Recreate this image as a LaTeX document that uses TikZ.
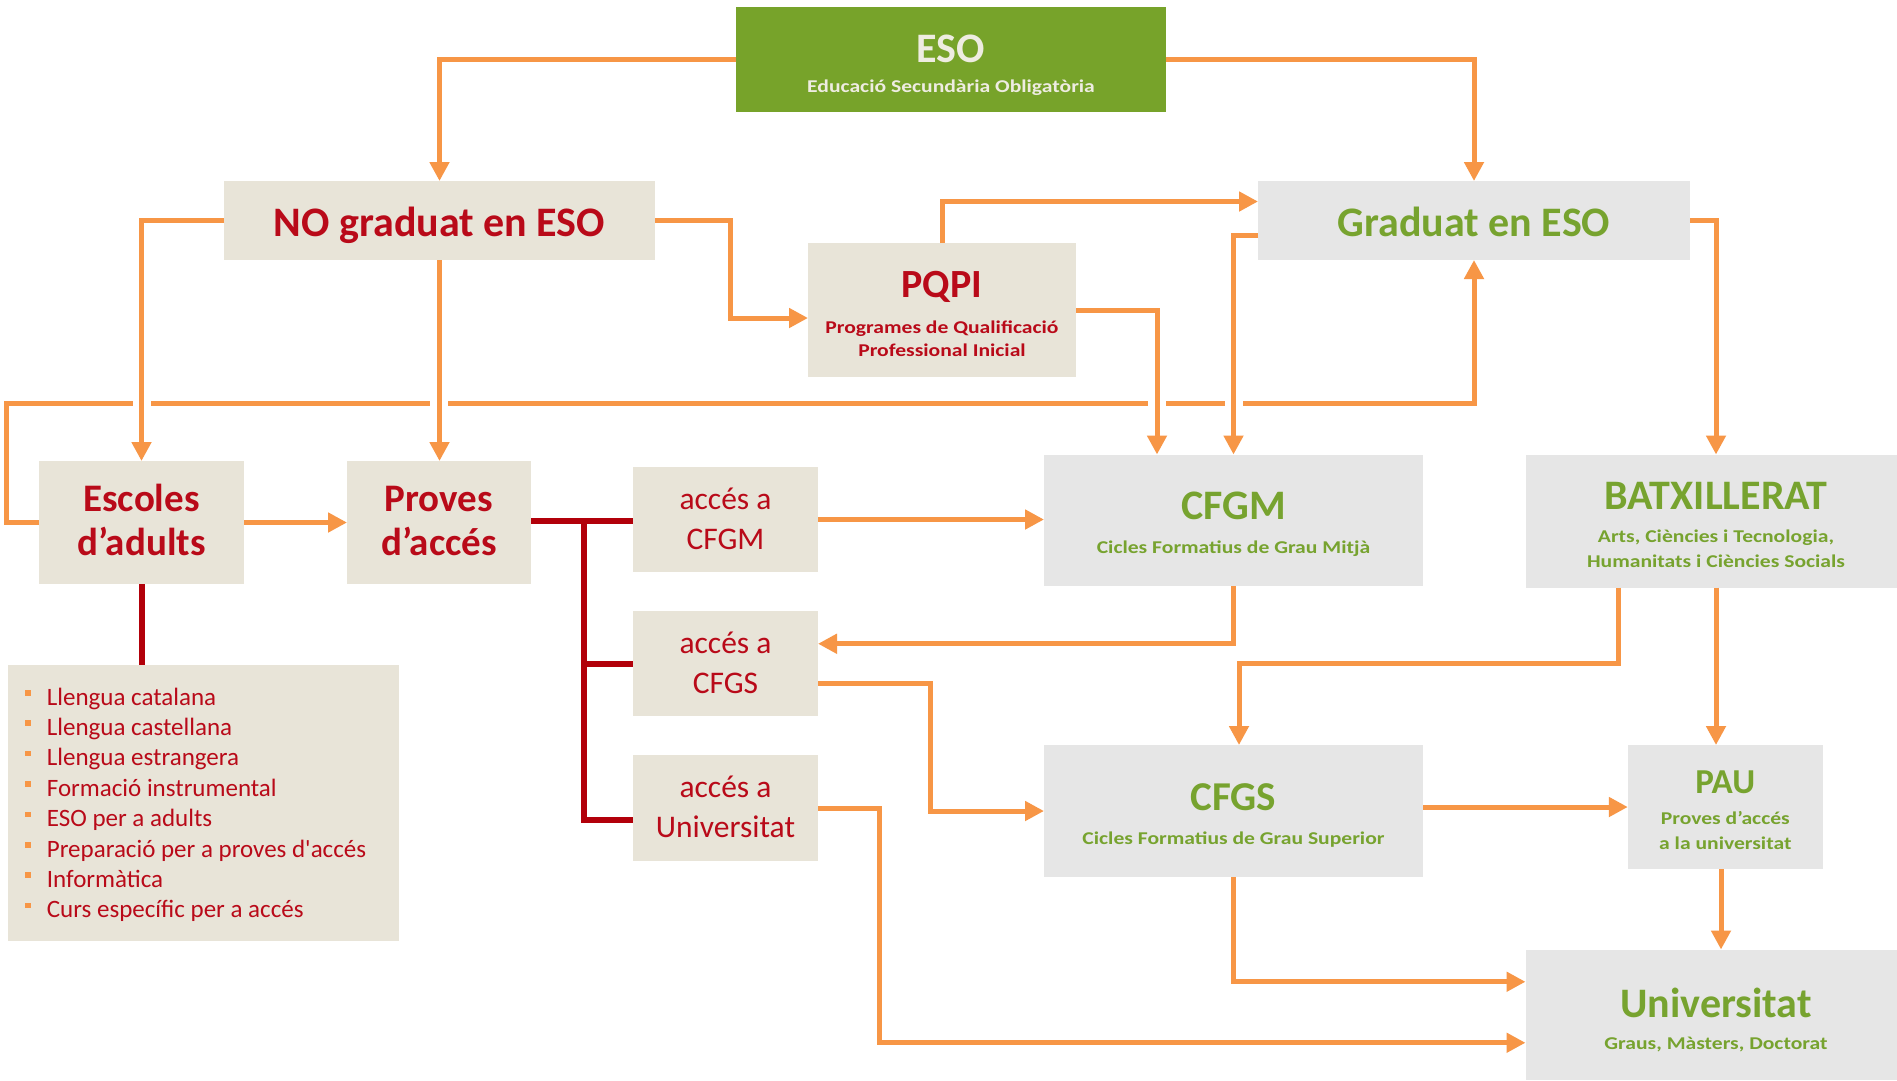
\documentclass[tikz,border=0pt]{standalone}
\usepackage{fontspec}
\setmainfont{Carlito}
\newfontfamily\subfont[FakeStretch=1.2]{Carlito}
\usetikzlibrary{arrows.meta,calc}
\definecolor{orangeL}{RGB}{247,150,70}
\definecolor{redT}{RGB}{185,10,25}
\definecolor{lineRed}{RGB}{178,0,10}
\definecolor{greenT}{RGB}{119,163,47}
\definecolor{esoG}{RGB}{119,163,42}
\definecolor{esoTc}{RGB}{238,236,225}
\definecolor{beige}{RGB}{232,228,216}
\definecolor{greyb}{RGB}{230,230,230}
\tikzset{
  bbox/.style={fill=beige, inner sep=0pt, outer sep=0pt},
  gbox/.style={fill=greyb, inner sep=0pt, outer sep=0pt},
  conn/.style={draw=orangeL, line width=5pt, -{Triangle[length=19pt,width=19pt]}},
  redl/.style={draw=lineRed, line width=6pt},
  tl/.style={anchor=base, inner sep=0pt},
  ttl/.style={tl, font=\bfseries\fontsize{42}{42}\selectfont},
  sub/.style={tl, font=\subfont\bfseries\fontsize{18}{18}\selectfont},
  acc/.style={tl, text=redT, font=\fontsize{31.5}{31.5}\selectfont},
  big/.style={tl, text=redT, font=\bfseries\fontsize{39}{39}\selectfont},
  litem/.style={anchor=base west, inner sep=0pt, text=redT, font=\fontsize{25}{25}\selectfont},
}
\begin{document}
\begin{tikzpicture}[x=1pt,y=-1pt]
\useasboundingbox[fill=white] (0,0) rectangle (1897,1080);
% boxes
\node[fill=esoG, inner sep=0pt, outer sep=0pt, minimum width=430pt, minimum height=105pt] (eso) at (951,59.5) {};
\node[bbox, minimum width=431pt, minimum height=79pt] (no) at (439.5,220.5) {};
\node[bbox, minimum width=268pt, minimum height=134pt] (pqpi) at (942,310) {};
\node[gbox, minimum width=432pt, minimum height=79pt] (grad) at (1474,220.5) {};
\node[bbox, minimum width=205pt, minimum height=123pt] (esc) at (141.5,522.5) {};
\node[bbox, minimum width=184pt, minimum height=123pt] (prov) at (439,522.5) {};
\node[bbox, minimum width=185pt, minimum height=105pt] (acm) at (725.5,519.5) {};
\node[bbox, minimum width=185pt, minimum height=105pt] (acs) at (725.5,663.75) {};
\node[bbox, minimum width=185pt, minimum height=106pt] (acu) at (725.5,808) {};
\node[gbox, minimum width=379pt, minimum height=131.5pt] (cfgm) at (1233.5,520.25) {};
\node[gbox, minimum width=371.5pt, minimum height=133pt] (batx) at (1711.25,521) {};
\node[gbox, minimum width=379pt, minimum height=132pt] (cfgs) at (1233.5,811) {};
\node[gbox, minimum width=195pt, minimum height=124pt] (pau) at (1725.3,807) {};
\node[gbox, minimum width=371.5pt, minimum height=130.5pt] (univ) at (1711.25,1014.75) {};
\node[bbox, minimum width=391pt, minimum height=276pt] (list) at (203.5,803) {};
% texts
\node[ttl, text=esoTc] (esoT) at (951,62) {ESO};
\node[sub, text=esoTc] (esoS) at (951,92) {Educació Secundària Obligatòria};
\node[ttl, text=redT] (noT) at (439.5,236) {NO graduat en ESO};
\node[ttl, text=redT, font=\bfseries\fontsize{40}{40}\selectfont] (pqT) at (942,297) {PQPI};
\node[sub, text=redT] (pqS1) at (942,333) {Programes de Qualificació};
\node[sub, text=redT] (pqS2) at (942,356) {Professional Inicial};
\node[ttl, text=greenT] (grT) at (1474,236) {Graduat en ESO};
\node[big] (escT1) at (141.5,511) {Escoles};
\node[big] (escT2) at (141.5,555) {d’adults};
\node[big] (provT1) at (439,511) {Proves};
\node[big] (provT2) at (439,555) {d’accés};
\node[acc] (acmT1) at (725.5,509) {accés a};
\node[acc] (acmT2) at (725.5,549) {CFGM};
\node[acc] (acsT1) at (725.5,653.5) {accés a};
\node[acc] (acsT2) at (725.5,693.5) {CFGS};
\node[acc] (acuT1) at (725.5,797) {accés a};
\node[acc] (acuT2) at (725.5,837) {Universitat};
\node[ttl, text=greenT] (cfgmT) at (1233.5,519.5) {CFGM};
\node[sub, text=greenT] (cfgmS) at (1233.5,553.5) {Cicles Formatius de Grau Mitjà};
\node[ttl, text=greenT] (batxT) at (1716,509) {BATXILLERAT};
\node[sub, text=greenT] (batxS1) at (1716,542) {Arts, Ciències i Tecnologia,};
\node[sub, text=greenT] (batxS2) at (1716,567) {Humanitats i Ciències Socials};
\node[ttl, text=greenT, font=\bfseries\fontsize{41}{41}\selectfont] (cfgsT) at (1233.5,810) {CFGS};
\node[sub, text=greenT] (cfgsS) at (1233.5,844) {Cicles Formatius de Grau Superior};
\node[ttl, text=greenT, font=\bfseries\fontsize{35}{35}\selectfont] (pauT) at (1725.3,793) {PAU};
\node[sub, text=greenT] (pauS1) at (1725.3,824) {Proves d’accés};
\node[sub, text=greenT] (pauS2) at (1725.3,849) {a la universitat};
\node[ttl, text=greenT] (univT) at (1716,1017.5) {Universitat};
\node[sub, text=greenT] (univS) at (1716,1049) {Graus, Màsters, Doctorat};
% list
\foreach \t [count=\i] in {Llengua catalana, Llengua castellana, Llengua estrangera, Formació instrumental, ESO per a adults, Preparació per a proves d\textquotesingle accés, Informàtica, Curs específic per a accés}{
  \pgfmathsetmacro{\yy}{705+(\i-1)*30.4}
  \fill[orangeL] (25,\yy-15) rectangle (30.5,\yy-9.5);
  \node[litem] (li\i) at (46.7,\yy) {\t};
}
% loop line Escoles -> Graduat
\draw[conn] (esc.west) -| (6,403) -| (grad.south);
\foreach \x in {141.5,439,1157,1233.5}{
  \fill[white] ({\x-9},399) rectangle ({\x+9},407.5);
}
% orange connectors
\draw[conn] (eso.west) -| (no.north);
\draw[conn] (eso.east) -| (grad.north);
\draw[conn] (no.west) -| (esc.north);
\draw[conn] (no.south) -- (no.south |- prov.north);
\draw[conn] (no.east) -| (730,318) -- ($(pqpi.west)+(0,8)$);
\draw[conn] (pqpi.north) |- ($(grad.west)+(0,-19)$);
\draw[conn] (pqpi.east) -| ($(cfgm.north)+(-76.5,0)$);
\draw[conn] ($(grad.west)+(0,14.5)$) -| (cfgm.north);
\draw[conn] (grad.east) -| ($(batx.north)+(4.75,0)$);
\draw[conn] (esc.east) -- (prov.west);
\draw[conn] (acm.east) -- (cfgm.west |- acm.east);
\draw[conn] (cfgm.south) |- ($(acs.east)+(0,-20)$);
\draw[conn] ($(acs.east)+(0,20)$) -- ++(112,0) |- (cfgs.west);
\draw[conn] (acu.east) -- ++(61,0) |- ($(univ.west)+(0,28)$);
\draw[conn] ($(batx.south)+(-92.75,0)$) -- ++(0,76) -| ($(cfgs.north)+(5.5,0)$);
\draw[conn] ($(batx.south)+(4.75,0)$) -- ($(pau.north)+(-9.3,0)$);
\draw[conn] (cfgs.east |- pau.west) -- (pau.west);
\coordinate (pauS) at ($(pau.south)+(-4.3,0)$);
\draw[conn] (pauS) -- (pauS |- univ.north);
\draw[conn] (cfgs.south) |- ($(univ.west)+(0,-33)$);
% red connectors
\draw[redl] (esc.south) -- (esc.south |- list.north);
\coordinate (rj) at ($(prov.east)+(52.5,-1.5)$);
\draw[redl] ($(prov.east)+(0,-1.5)$) -- (acm.west |- rj);
\draw[redl] (rj) |- (acs.west);
\draw[redl] (rj) |- ($(acu.west)+(0,12)$);
\end{tikzpicture}
\end{document}
